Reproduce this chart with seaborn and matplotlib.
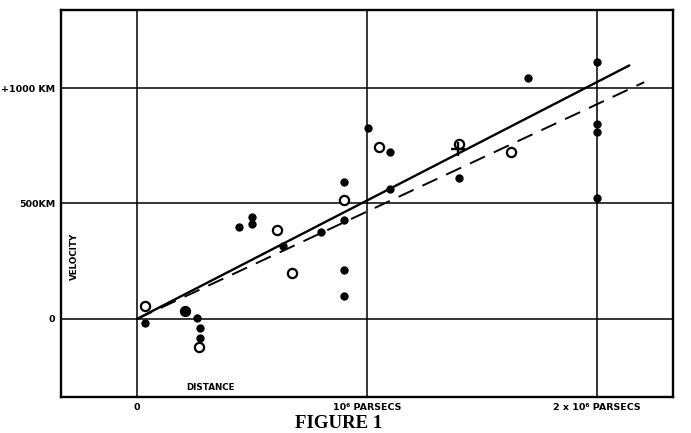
import matplotlib
matplotlib.use("Agg")
import matplotlib.pyplot as plt
import seaborn as sns
import pandas as pd

# Hubble 1929 velocity-distance relation
# individual nebulae (filled dots): distance in 10^6 parsecs, velocity in km/s
dot_dist = [0.035, 0.26, 0.274, 0.274, 0.445, 0.50, 0.50, 0.633, 0.80,
            0.90, 0.90, 0.90, 0.90, 1.006, 1.10, 1.10, 1.40, 1.40,
            1.70, 2.00, 2.00, 2.00, 2.00]
dot_vel = [-17, 6, -38, -81, 397, 443, 411, 317, 375,
           594, 429, 212, 100, 828, 724, 563, 757, 609,
           1045, 1111, 843, 808, 525]

# the one larger dot near the origin
big_dist = [0.211]
big_vel = [36]

# groups of nebulae (open circles)
grp_dist = [0.035, 0.271, 0.61, 0.672, 0.90, 1.052, 1.40, 1.626]
grp_vel = [56, -123, 385, 200, 515, 743, 757, 724]

# cross mark
cross_dist = [1.395]
cross_vel = [735]

# fitted lines: slope (km/s per 10^6 pc) and extent
solid_slope = 513
solid_end = 2.14
dashed_slope = 465
dashed_end = 2.205

sns.set_style("white")
plt.rcParams['font.family'] = ['DejaVu Sans']
plt.rcParams['text.color'] = 'black'

fig = plt.figure(figsize=(6.91, 4.33), dpi=100)
ax = fig.add_axes([0.0883, 0.0831, 0.8857, 0.8939])

solid = pd.DataFrame({"d": [0, solid_end], "v": [0, solid_slope * solid_end]})
dashed = pd.DataFrame({"d": [0, dashed_end], "v": [0, dashed_slope * dashed_end]})
sns.lineplot(data=solid, x="d", y="v", ax=ax, color="black", lw=1.7)
sns.lineplot(data=dashed, x="d", y="v", ax=ax, color="black", lw=1.4,
             dashes=False, linestyle=(0, (8.5, 5)))

sns.scatterplot(x=dot_dist, y=dot_vel, ax=ax, color="black", s=36,
                edgecolor="black", linewidth=0, zorder=5)
sns.scatterplot(x=big_dist, y=big_vel, ax=ax, color="black", s=66,
                edgecolor="black", linewidth=0, zorder=5)
sns.scatterplot(x=grp_dist, y=grp_vel, ax=ax, facecolor="white", s=44,
                edgecolor="black", linewidth=1.6, zorder=6)
sns.scatterplot(x=cross_dist, y=cross_vel, ax=ax, marker="+", color="black",
                s=110, linewidth=1.7, zorder=6)

ax.set_xlim(-0.33, 2.33)
ax.set_ylim(-338, 1338)

for x in [0, 1, 2]:
    ax.axvline(x, color="black", lw=1.1, zorder=1)
for y in [0, 500, 1000]:
    ax.axhline(y, color="black", lw=1.1, zorder=1)

ax.set_xticks([0, 1, 2])
ax.set_xticklabels(["0", "10\u2076 PARSECS", "2 x 10\u2076 PARSECS"],
                   fontsize=6.8, fontweight="bold", color="black")
ax.set_yticks([0, 500, 1000])
ax.set_yticklabels(["0", "500KM", "+1000 KM"], fontsize=6.8,
                   fontweight="bold", color="black")
ax.tick_params(length=0, pad=4)
ax.set_xlabel("")
ax.set_ylabel("")

for side in ax.spines.values():
    side.set_color("black")
    side.set_linewidth(1.7)

ax.text(-0.27, 270, "VELOCITY", rotation=90, ha="center", va="center",
        fontsize=6.3, fontweight="bold", color="black")
ax.text(0.32, -295, "DISTANCE", ha="center", va="center",
        fontsize=6.3, fontweight="bold", color="black")

fig.text(0.49, 1 - 423 / 433, "FIGURE 1", ha="center", va="center",
         family="Liberation Serif", fontweight="bold", fontsize=13.5,
         color="black")

fig.savefig("out.png", dpi=100)
